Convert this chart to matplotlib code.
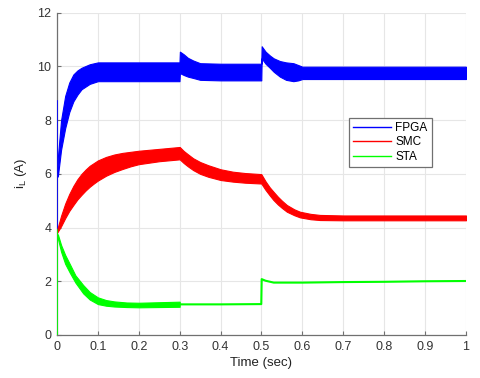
import matplotlib
matplotlib.use("Agg")
import matplotlib.pyplot as plt

plt.rcParams['font.family'] = ['Liberation Sans', 'DejaVu Sans']

# ---- FPGA (blue) ripple band: time, upper envelope, lower envelope ----
fpga_t     = [0.002, 0.01, 0.02, 0.03, 0.04, 0.05, 0.06, 0.08, 0.10, 0.20, 0.2995,
              0.3005, 0.31, 0.32, 0.333, 0.35, 0.40, 0.4995,
              0.5005, 0.51, 0.521, 0.53, 0.545, 0.56, 0.578, 0.59, 0.60, 0.80, 1.00]
fpga_upper = [6.6, 8.0, 8.9, 9.4, 9.7, 9.85, 9.95, 10.08, 10.15, 10.15, 10.15,
              10.55, 10.45, 10.32, 10.22, 10.12, 10.1, 10.1,
              10.75, 10.55, 10.4, 10.3, 10.2, 10.15, 10.12, 10.05, 9.99, 9.99, 9.99]
fpga_lower = [5.9, 6.9, 7.7, 8.3, 8.7, 8.95, 9.15, 9.35, 9.45, 9.45, 9.45,
              9.75, 9.68, 9.62, 9.57, 9.5, 9.48, 9.48,
              10.3, 10.1, 9.94, 9.8, 9.62, 9.5, 9.45, 9.48, 9.53, 9.53, 9.53]
fpga_step_t = [0.0, 0.0]
fpga_step_v = [3.9, 8.7]

# ---- SMC (red) ripple band ----
smc_t     = [0.0, 0.01, 0.02, 0.03, 0.04, 0.05, 0.06, 0.07, 0.08, 0.09, 0.10,
             0.12, 0.14, 0.16, 0.18, 0.20, 0.25, 0.30,
             0.31, 0.32, 0.333, 0.35, 0.37, 0.40, 0.43, 0.46, 0.4995,
             0.51, 0.52, 0.529, 0.54, 0.55, 0.562, 0.58, 0.594, 0.62, 0.643, 0.70, 1.00]
smc_upper = [3.9, 4.44, 4.89, 5.25, 5.55, 5.8, 6.0, 6.16, 6.3, 6.4, 6.5,
             6.63, 6.72, 6.78, 6.82, 6.86, 6.93, 7.0,
             6.85, 6.73, 6.58, 6.44, 6.32, 6.17, 6.08, 6.03, 5.99,
             5.72, 5.5, 5.34, 5.15, 5.0, 4.84, 4.68, 4.59, 4.51, 4.47, 4.45, 4.45]
smc_lower = [3.8, 4.05, 4.35, 4.62, 4.84, 5.05, 5.22, 5.38, 5.52, 5.64, 5.75,
             5.93, 6.07, 6.18, 6.28, 6.36, 6.47, 6.54,
             6.4, 6.28, 6.14, 6.0, 5.89, 5.77, 5.71, 5.67, 5.64,
             5.4, 5.2, 5.03, 4.86, 4.73, 4.59, 4.46, 4.38, 4.31, 4.28, 4.27, 4.27]

# ---- STA (green) ----
sta_t     = [0.002, 0.01, 0.02, 0.032, 0.045, 0.064, 0.08, 0.10, 0.12, 0.14, 0.17, 0.20, 0.25, 0.30]
sta_upper = [3.75, 3.35, 2.98, 2.62, 2.22, 1.86, 1.6, 1.4, 1.3, 1.25, 1.21, 1.2, 1.22, 1.24]
sta_lower = [3.6, 3.1, 2.65, 2.3, 1.95, 1.55, 1.32, 1.15, 1.09, 1.06, 1.04, 1.03, 1.04, 1.05]
sta_line_t = [0.30, 0.40, 0.4995, 0.5005, 0.51, 0.53, 0.60, 0.70, 0.80, 0.90, 1.00]
sta_line_v = [1.14, 1.14, 1.15, 2.08, 2.02, 1.95, 1.95, 1.97, 1.98, 2.0, 2.01]
sta_step_t = [0.0, 0.0]
sta_step_v = [0.0, 3.9]

labels = ['FPGA', 'SMC', 'STA']
colors = ['#0000ff', '#ff0000', '#00ff00']

x_ticks = [0, 0.1, 0.2, 0.3, 0.4, 0.5, 0.6, 0.7, 0.8, 0.9, 1]
x_ticklabels = ['0', '0.1', '0.2', '0.3', '0.4', '0.5', '0.6', '0.7', '0.8', '0.9', '1']
y_ticks = [0, 2, 4, 6, 8, 10, 12]

fig = plt.figure(figsize=(4.8, 3.78), dpi=100)
ax = fig.add_axes([0.11875, 0.1138, 0.852, 0.8526])

# blue
ax.fill_between(fpga_t, fpga_lower, fpga_upper, color=colors[0], lw=0.8, zorder=3)
ax.plot(fpga_step_t, fpga_step_v, color=colors[0], lw=1.2, zorder=3)
# red
ax.fill_between(smc_t, smc_lower, smc_upper, color=colors[1], lw=0.8, zorder=3)
# green
ax.fill_between(sta_t, sta_lower, sta_upper, color=colors[2], lw=0.8, zorder=3)
ax.plot(sta_line_t, sta_line_v, color=colors[2], lw=1.5, zorder=3)
ax.plot(sta_step_t, sta_step_v, color=colors[2], lw=1.2, zorder=3)

# legend proxies
for lab, col in zip(labels, colors):
    ax.plot([], [], color=col, lw=1.0, label=lab)

ax.set_xlim(0, 1)
ax.set_ylim(0, 12)
ax.set_xticks(x_ticks)
ax.set_xticklabels(x_ticklabels)
ax.set_yticks(y_ticks)
ax.grid(True, color='#e6e6e6', lw=0.8, zorder=0)
ax.set_axisbelow(True)
for s in ['top', 'right']:
    ax.spines[s].set_visible(False)
for s in ['left', 'bottom']:
    ax.spines[s].set_color('#707070')
    ax.spines[s].set_linewidth(0.9)
ax.tick_params(direction='in', length=3, width=0.8, color='#707070',
               labelsize=9, labelcolor='#333333', pad=4)

ax.set_xlabel('Time (sec)', fontsize=9.5, color='#222222', labelpad=3)
ax.set_ylabel(r'$\mathregular{i_L}$ (A)', fontsize=9.5, color='#222222', labelpad=6)

leg = ax.legend(loc='upper left', bbox_to_anchor=(0.699, 0.692), fontsize=8.5,
                handlelength=3.2, handletextpad=0.4, labelspacing=0.2,
                borderpad=0.35, fancybox=False, framealpha=1,
                edgecolor='#707070')
leg.get_frame().set_linewidth(0.9)

fig.savefig('out.png', dpi=100)
